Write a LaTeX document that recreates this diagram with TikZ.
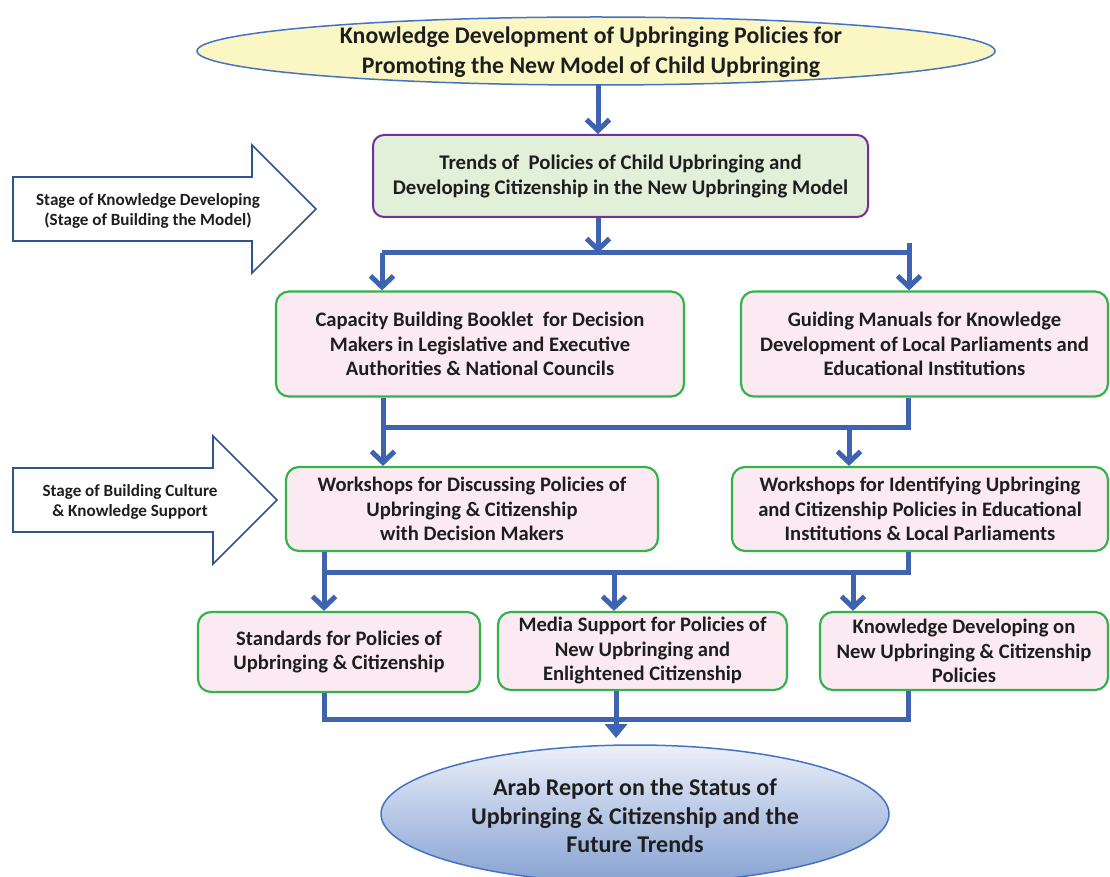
\documentclass[tikz,border=0pt]{standalone}
\usepackage{fontspec}
\setmainfont{Carlito}
\usetikzlibrary{arrows.meta,shapes.geometric}
\definecolor{lineblue}{RGB}{61,99,177}
\definecolor{ellborder}{RGB}{68,114,196}
\definecolor{ellfill}{RGB}{251,247,196}
\definecolor{trendfill}{RGB}{226,240,217}
\definecolor{trendborder}{RGB}{112,48,160}
\definecolor{pinkfill}{RGB}{251,234,241}
\definecolor{greenborder}{RGB}{52,179,74}
\definecolor{stageborder}{RGB}{47,85,143}
\definecolor{reptop}{RGB}{236,240,248}
\definecolor{repmid}{RGB}{184,200,230}
\definecolor{repbot}{RGB}{135,162,210}
\definecolor{txt}{RGB}{30,30,30}
\tikzset{
  x=1pt, y=-1pt,
  conn/.style={draw=lineblue, line width=5pt},
  arr/.style={conn, -{Straight Barb[length=11pt,width=23pt]}},
  pinkbox/.style={draw=greenborder, line width=2.2pt, fill=pinkfill, rounded corners=13pt,
    inner sep=0pt, align=center, text=txt, font=\bfseries\fontsize{20.6}{24.5}\selectfont},
  stagebox/.style={draw=stageborder, line width=1.6pt, fill=white, line join=miter},
  stagetext/.style={align=center, text=txt, font=\bfseries\fontsize{17.1}{20}\selectfont},
}
\begin{document}
\begin{tikzpicture}
\useasboundingbox (0,0) rectangle (1110,877);
\clip (0,0) rectangle (1110,877);
\fill[white] (0,0) rectangle (1110,877);

% top ellipse
\node[ellipse, draw=ellborder, line width=1.5pt, fill=ellfill, minimum width=798pt, minimum height=68pt,
  inner sep=0pt] (top) at (596,51) {};
\node[align=center, text=txt, font=\bfseries\fontsize{23.8}{29.5}\selectfont]
  (toplabel) at (591,52) {Knowledge Development of Upbringing Policies for\\Promoting the New Model of Child Upbringing};

% trends box
\node[draw=trendborder, line width=2pt, fill=trendfill, rounded corners=11pt, minimum width=495pt, minimum height=82pt,
  inner sep=0pt, align=center, text=txt, font=\bfseries\fontsize{20.8}{25}\selectfont]
  (trends) at (620.5,176) {Trends of \ Policies of Child Upbringing and\\Developing Citizenship in the New Upbringing Model};

% stage arrows
\draw[stagebox] (13,177) -- (252,177) -- (252,145) -- (316,209) -- (252,273) -- (252,241) -- (13,241) -- cycle;
\node[stagetext] (stage1) at (148,211) {Stage of Knowledge Developing\\(Stage of Building the Model)};
\draw[stagebox] (13,468) -- (213,468) -- (213,436) -- (277,500) -- (213,564) -- (213,532) -- (13,532) -- cycle;
\node[stagetext] (stage2) at (130,502) {Stage of Building Culture\\\& Knowledge Support};

% level 2
\node[pinkbox, minimum width=408pt, minimum height=105pt] (cap) at (480,344)
  {Capacity Building Booklet \ for Decision\\Makers in Legislative and Executive\\Authorities \& National Councils};
\node[pinkbox, minimum width=367pt, minimum height=105pt] (guide) at (924.5,344)
  {Guiding Manuals for Knowledge\\Development of Local Parliaments and\\Educational Institutions};

% level 3
\node[pinkbox, minimum width=372pt, minimum height=84pt] (ws1) at (472,509)
  {Workshops for Discussing Policies of\\Upbringing \& Citizenship\\with Decision Makers};
\node[pinkbox, minimum width=376pt, minimum height=84pt] (ws2) at (920,509)
  {Workshops for Identifying Upbringing\\and Citizenship Policies in Educational\\Institutions \& Local Parliaments};

% level 4
\node[pinkbox, minimum width=282pt, minimum height=80pt] (std) at (339,652)
  {Standards for Policies of\\Upbringing \& Citizenship};
\node[pinkbox, minimum width=289pt, minimum height=78pt] (media) at (642.5,651)
  {Media Support for Policies of\\New Upbringing and\\Enlightened Citizenship};
\node[pinkbox, minimum width=288pt, minimum height=78pt] (kdev) at (964,651)
  {Knowledge Developing on\\New Upbringing \& Citizenship\\Policies};

% bottom ellipse
\node[ellipse, draw=ellborder, line width=1.5pt, top color=reptop, bottom color=repbot,
  middle color=repmid, minimum width=508pt, minimum height=138pt, inner sep=0pt] (report) at (635,814) {};
\node[align=center, text=txt, font=\bfseries\fontsize{24}{28.5}\selectfont] (reportlabel) at (635,816)
  {Arab Report on the Status of\\Upbringing \& Citizenship and the\\Future Trends};

% connectors
\coordinate (c0) at (598,84);
\draw[arr] (c0) -- (trends.north -| c0);

\coordinate (s1) at (598,253);
\coordinate (s1l) at (382,253);
\coordinate (s1r) at (909,253);
\coordinate (s1rt) at (909,243);
\draw[arr] (trends.south -| s1) -- (s1);
\draw[conn] (s1l) -- (s1r);
\draw[arr] (s1rt) -- (guide.north -| s1r);
\draw[arr] (s1l) -- (cap.north -| s1l);

\coordinate (s2l) at (383,427);
\coordinate (s2r) at (908,427);
\coordinate (s2a) at (849,427);
\draw[conn] (cap.south -| s2l) -- (s2l) -- (s2r) -- (guide.south -| s2r);
\draw[arr] (s2l) -- (ws1.north -| s2l);
\draw[arr] (s2a) -- (ws2.north -| s2a);

\coordinate (s3l) at (324,572);
\coordinate (s3r) at (908,572);
\coordinate (s3m) at (614,572);
\coordinate (s3k) at (853,572);
\draw[conn] (ws1.south -| s3l) -- (s3l) -- (s3r) -- (ws2.south -| s3r);
\draw[arr] (s3l) -- (std.north -| s3l);
\draw[arr] (s3m) -- (media.north -| s3m);
\draw[arr] (s3k) -- (kdev.north -| s3k);

\coordinate (s4l) at (324,719);
\coordinate (s4r) at (908,719);
\coordinate (s4e) at (616,738);
\draw[conn] (std.south -| s4l) -- (s4l) -- (s4r) -- (kdev.south -| s4r);
\draw[conn, -{Triangle[length=14pt,width=22pt]}] (media.south -| s4e) -- (s4e);
\end{tikzpicture}
\end{document}
